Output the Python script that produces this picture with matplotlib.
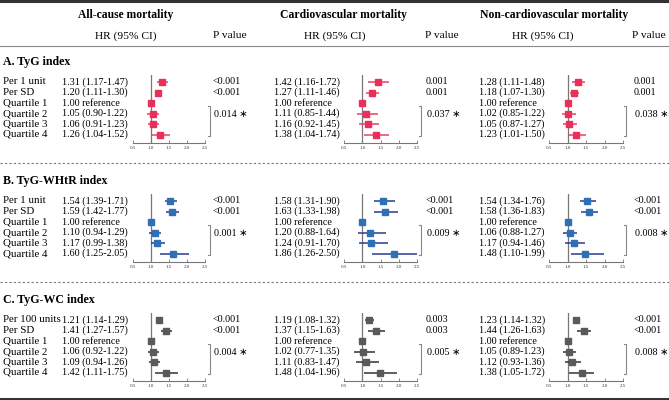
import numpy as np
import matplotlib.pyplot as plt
from matplotlib.lines import Line2D

plt.rcParams['font.family'] = ['Liberation Serif', 'DejaVu Sans']

# ---- data ----
outcomes = ["All-cause mortality", "Cardiovascular mortality", "Non-cardiovascular mortality"]
sections = ["A. TyG index", "B. TyG-WHtR index", "C. TyG-WC index"]
row_labels = [
    ["Per 1 unit", "Per SD", "Quartile 1", "Quartile 2", "Quartile 3", "Quartile 4"],
    ["Per 1 unit", "Per SD", "Quartile 1", "Quartile 2", "Quartile 3", "Quartile 4"],
    ["Per 100 units", "Per SD", "Quartile 1", "Quartile 2", "Quartile 3", "Quartile 4"],
]

# hr[section][outcome] -> list of rows
hr = [
    [[1.31, 1.20, 1.00, 1.05, 1.06, 1.26],
     [1.42, 1.27, 1.00, 1.11, 1.16, 1.38],
     [1.28, 1.18, 1.00, 1.02, 1.05, 1.23]],
    [[1.54, 1.59, 1.00, 1.10, 1.17, 1.60],
     [1.58, 1.63, 1.00, 1.20, 1.24, 1.86],
     [1.54, 1.58, 1.00, 1.06, 1.17, 1.48]],
    [[1.21, 1.41, 1.00, 1.06, 1.09, 1.42],
     [1.19, 1.37, 1.00, 1.02, 1.11, 1.48],
     [1.23, 1.44, 1.00, 1.05, 1.12, 1.38]],
]
lower = [
    [[1.17, 1.11, None, 0.90, 0.91, 1.04],
     [1.16, 1.11, None, 0.85, 0.92, 1.04],
     [1.11, 1.07, None, 0.85, 0.87, 1.01]],
    [[1.39, 1.42, None, 0.94, 0.99, 1.25],
     [1.31, 1.33, None, 0.88, 0.91, 1.26],
     [1.34, 1.36, None, 0.88, 0.94, 1.10]],
    [[1.14, 1.27, None, 0.92, 0.94, 1.11],
     [1.08, 1.15, None, 0.77, 0.83, 1.04],
     [1.14, 1.26, None, 0.89, 0.93, 1.05]],
]
upper = [
    [[1.47, 1.30, None, 1.22, 1.23, 1.52],
     [1.72, 1.46, None, 1.44, 1.45, 1.74],
     [1.48, 1.30, None, 1.22, 1.27, 1.50]],
    [[1.71, 1.77, None, 1.29, 1.38, 2.05],
     [1.90, 1.98, None, 1.64, 1.70, 2.50],
     [1.76, 1.83, None, 1.27, 1.46, 1.99]],
    [[1.29, 1.57, None, 1.22, 1.26, 1.75],
     [1.32, 1.63, None, 1.35, 1.47, 1.96],
     [1.32, 1.63, None, 1.23, 1.36, 1.72]],
]
p_values = [
    [["<0.001", "<0.001"], ["0.001", "0.001"], ["0.001", "0.001"]],
    [["<0.001", "<0.001"], ["<0.001", "<0.001"], ["<0.001", "<0.001"]],
    [["<0.001", "<0.001"], ["0.003", "0.003"], ["<0.001", "<0.001"]],
]
p_trend = [
    ["0.014", "0.037", "0.038"],
    ["0.001", "0.009", "0.008"],
    ["0.004", "0.005", "0.008"],
]
ticks = [0.5, 1.0, 1.5, 2.0, 2.5]

# ---- styles / layout (pixels) ----
marker_colors = ["#e8305a", "#2f6fb3", "#5a5a5a"]
line_colors = ["#e8416b", "#2b3a94", "#333333"]

W, H = 669, 400
def fx(x):
    return x / W
def fy(y):
    return 1 - y / H

label_x = 3
hr_x = [62, 274, 479]
axis_x = [(133, 205), (344, 417), (549, 623)]
p_x = [213, 426, 634]
bracket_x = [210, 421, 626]
title_cx = [126, 343, 554]
hrhead_cx = [126, 335, 543]
phead_x = [213, 425, 632]
first_row = [82, 201, 320]
section_title_y = [62, 181, 300]
row_h = 10.5
top_pad, bot_pad = 0.7, 0.8

fs = 7.3
fs_lab = 7.8
fig = plt.figure(figsize=(6.69, 4.0), dpi=100)

# header
for c in range(3):
    fig.text(fx(title_cx[c]), fy(15), outcomes[c], ha="center", va="center",
             fontsize=8.4, fontweight="bold")
    fig.text(fx(hrhead_cx[c]), fy(36), "HR (95% CI)", ha="center", va="center", fontsize=8.2)
    fig.text(fx(phead_x[c]), fy(36), "P value", ha="left", va="center", fontsize=8.2)

def hline(y, lw, color, ls="-"):
    fig.add_artist(Line2D([0, 1], [fy(y), fy(y)], transform=fig.transFigure,
                          lw=lw, color=color, ls=ls))

hline(1, 2.2, "#333333")
hline(45.5, 0.8, "#888888")
hline(163, 0.8, "#777777", ls=(0, (2, 2)))
hline(282, 0.8, "#777777", ls=(0, (2, 2)))
hline(398.5, 2.2, "#333333")

for s in range(3):
    fig.text(fx(label_x), fy(section_title_y[s]), sections[s], ha="left", va="center",
             fontsize=8.6, fontweight="bold")
    rows_y = [first_row[s] + i * row_h for i in range(6)]
    for i, lab in enumerate(row_labels[s]):
        fig.text(fx(label_x), fy(rows_y[i]), lab, ha="left", va="center", fontsize=fs_lab)

    for c in range(3):
        # HR text column
        for i in range(6):
            if lower[s][c][i] is None:
                txt = f"{hr[s][c][i]:.2f} reference"
            else:
                txt = f"{hr[s][c][i]:.2f} ({lower[s][c][i]:.2f}-{upper[s][c][i]:.2f})"
            fig.text(fx(hr_x[c]), fy(rows_y[i]), txt, ha="left", va="center", fontsize=fs)
        # p values
        for i in range(2):
            fig.text(fx(p_x[c]), fy(rows_y[i]), p_values[s][c][i], ha="left", va="center",
                     fontsize=fs)
        fig.text(fx(p_x[c] + 1), fy(rows_y[3] + 1), p_trend[s][c] + " \u2217", ha="left",
                 va="center", fontsize=fs)
        # bracket
        bx = fx(bracket_x[c])
        yt, yb = fy(rows_y[2] + 3), fy(rows_y[5] + 1.5)
        fig.add_artist(Line2D([fx(bracket_x[c] - 2.5), bx, bx, fx(bracket_x[c] - 2.5)],
                              [yt, yt, yb, yb], transform=fig.transFigure,
                              lw=0.8, color="#888888"))

        # forest axes
        x0, x1 = axis_x[c]
        top = first_row[s] - top_pad * row_h
        bot = first_row[s] + (5 + bot_pad) * row_h
        ax = fig.add_axes([fx(x0), fy(bot), (x1 - x0) / W, (bot - top) / H])
        ax.set_xlim(0.5, 2.5)
        ax.set_ylim(5 + bot_pad, -top_pad)
        ax.patch.set_visible(False)
        ax.axvline(1.0, color="#777777", lw=0.9, zorder=1)
        yy = np.arange(6)
        for i in range(6):
            if lower[s][c][i] is not None:
                ax.plot([lower[s][c][i], upper[s][c][i]], [yy[i], yy[i]],
                        color=line_colors[s], lw=1.1, solid_capstyle="butt", zorder=2,
                        clip_on=False)
        ax.plot(hr[s][c], yy, ls="none", marker="s", markersize=4.4,
                color=marker_colors[s], zorder=3, clip_on=False)
        for sp in ["top", "right", "left"]:
            ax.spines[sp].set_visible(False)
        ax.spines["bottom"].set_color("#777777")
        ax.spines["bottom"].set_linewidth(0.8)
        ax.set_yticks([])
        ax.set_xticks(ticks)
        ax.set_xticklabels([f"{t:.1f}" for t in ticks])
        ax.tick_params(axis="x", direction="in", length=2.5, width=0.6, colors="#777777",
                       labelsize=3.6, pad=2, labelcolor="#333333")

fig.savefig("out.png", dpi=100, facecolor="white")
